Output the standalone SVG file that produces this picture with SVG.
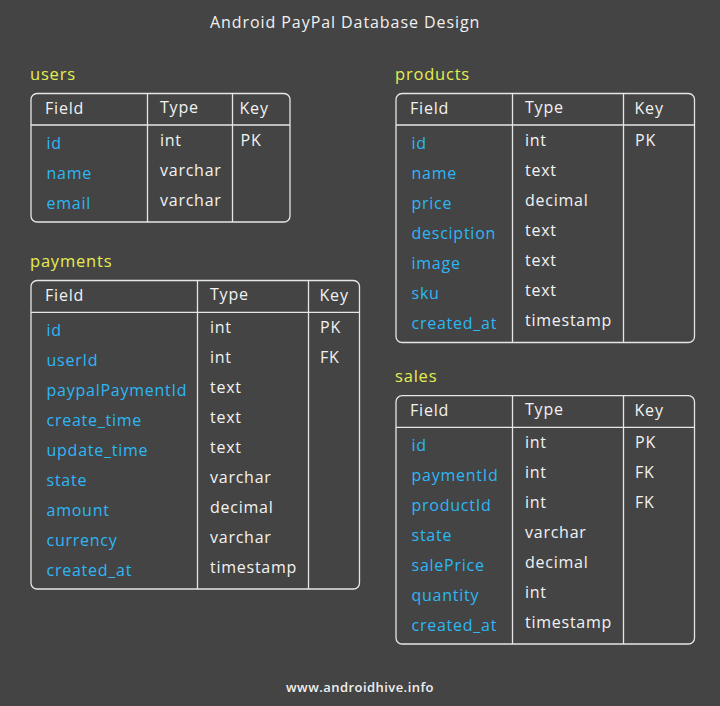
<svg xmlns="http://www.w3.org/2000/svg" width="720" height="706" viewBox="0 0 720 706">
<style>
text{font-family:"Open Sans","Noto Sans","DejaVu Sans",sans-serif;}
.title{font-size:16px;fill:#f0f0f0;letter-spacing:0.93px;}
.foot{font-size:13px;fill:#f0f0f0;font-weight:600;letter-spacing:0.45px;}
.tname{font-size:16.5px;fill:#e4ee50;letter-spacing:0.8px;}
.hd{font-size:16px;fill:#f2f2f2;letter-spacing:0.8px;}
.fld{font-size:16px;fill:#2db7f5;letter-spacing:0.75px;}
.typ{font-size:16px;fill:#f2f2f2;letter-spacing:0.75px;}
.box{fill:none;stroke:#e6e6e6;stroke-width:1.3;}
.ln{stroke:#e6e6e6;stroke-width:1.3;}
</style>
<rect width="720" height="706" fill="#444444"/>
<text class="title" x="210" y="28">Android PayPal Database Design</text>

<g id="users">
<text class="tname" x="30" y="80">users</text>
<rect class="box" x="31" y="93.5" width="259" height="128.5" rx="6"/>
<line class="ln" x1="31" y1="125" x2="290" y2="125"/>
<line class="ln" x1="147.5" y1="93.5" x2="147.5" y2="222"/>
<line class="ln" x1="232.5" y1="93.5" x2="232.5" y2="222"/>
<text class="hd" x="45" y="114">Field</text>
<text class="hd" x="160" y="113">Type</text>
<text class="hd" x="239.5" y="114">Key</text>
<text class="fld" x="46.5" y="149">id</text>
<text class="fld" x="46.5" y="179">name</text>
<text class="fld" x="46.5" y="209">email</text>
<text class="typ" x="160" y="145.5">int</text>
<text class="typ" x="160" y="175.5">varchar</text>
<text class="typ" x="160" y="205.5">varchar</text>
<text class="typ" x="240.5" y="145.5">PK</text>
</g>

<g id="products">
<text class="tname" x="395" y="80">products</text>
<rect class="box" x="396" y="93.5" width="298.5" height="249" rx="6"/>
<line class="ln" x1="396" y1="125" x2="694.5" y2="125"/>
<line class="ln" x1="512.5" y1="93.5" x2="512.5" y2="342.5"/>
<line class="ln" x1="623.5" y1="93.5" x2="623.5" y2="342.5"/>
<text class="hd" x="410" y="114">Field</text>
<text class="hd" x="525" y="113">Type</text>
<text class="hd" x="634.5" y="114">Key</text>
<text class="fld" x="411.5" y="149">id</text>
<text class="fld" x="411.5" y="179">name</text>
<text class="fld" x="411.5" y="209">price</text>
<text class="fld" x="411.5" y="239">desciption</text>
<text class="fld" x="411.5" y="269">image</text>
<text class="fld" x="411.5" y="299">sku</text>
<text class="fld" x="411.5" y="329">created_at</text>
<text class="typ" x="525" y="145.5">int</text>
<text class="typ" x="525" y="175.5">text</text>
<text class="typ" x="525" y="205.5">decimal</text>
<text class="typ" x="525" y="235.5">text</text>
<text class="typ" x="525" y="265.5">text</text>
<text class="typ" x="525" y="295.5">text</text>
<text class="typ" x="525" y="325.5">timestamp</text>
<text class="typ" x="635" y="145.5">PK</text>
</g>

<g id="payments">
<text class="tname" x="30" y="267">payments</text>
<rect class="box" x="31" y="280.5" width="328.5" height="308.5" rx="6"/>
<line class="ln" x1="31" y1="312.3" x2="359.5" y2="312.3"/>
<line class="ln" x1="197.5" y1="280.5" x2="197.5" y2="589"/>
<line class="ln" x1="308.5" y1="280.5" x2="308.5" y2="589"/>
<text class="hd" x="45" y="301">Field</text>
<text class="hd" x="210" y="300">Type</text>
<text class="hd" x="319.5" y="301">Key</text>
<text class="fld" x="46.5" y="336">id</text>
<text class="fld" x="46.5" y="366">userId</text>
<text class="fld" x="46.5" y="396">paypalPaymentId</text>
<text class="fld" x="46.5" y="426">create_time</text>
<text class="fld" x="46.5" y="456">update_time</text>
<text class="fld" x="46.5" y="486">state</text>
<text class="fld" x="46.5" y="516">amount</text>
<text class="fld" x="46.5" y="546">currency</text>
<text class="fld" x="46.5" y="576">created_at</text>
<text class="typ" x="210" y="332.5">int</text>
<text class="typ" x="210" y="362.5">int</text>
<text class="typ" x="210" y="392.5">text</text>
<text class="typ" x="210" y="422.5">text</text>
<text class="typ" x="210" y="452.5">text</text>
<text class="typ" x="210" y="482.5">varchar</text>
<text class="typ" x="210" y="512.5">decimal</text>
<text class="typ" x="210" y="542.5">varchar</text>
<text class="typ" x="210" y="572.5">timestamp</text>
<text class="typ" x="320" y="332.5">PK</text>
<text class="typ" x="320" y="362.5">FK</text>
</g>

<g id="sales">
<text class="tname" x="395" y="382">sales</text>
<rect class="box" x="396" y="395.7" width="298.5" height="248.3" rx="6"/>
<line class="ln" x1="396" y1="427.3" x2="694.5" y2="427.3"/>
<line class="ln" x1="512.5" y1="395.7" x2="512.5" y2="644"/>
<line class="ln" x1="623.5" y1="395.7" x2="623.5" y2="644"/>
<text class="hd" x="410" y="416">Field</text>
<text class="hd" x="525" y="415">Type</text>
<text class="hd" x="634.5" y="416">Key</text>
<text class="fld" x="411.5" y="451">id</text>
<text class="fld" x="411.5" y="481">paymentId</text>
<text class="fld" x="411.5" y="511">productId</text>
<text class="fld" x="411.5" y="541">state</text>
<text class="fld" x="411.5" y="571">salePrice</text>
<text class="fld" x="411.5" y="601">quantity</text>
<text class="fld" x="411.5" y="631">created_at</text>
<text class="typ" x="525" y="447.5">int</text>
<text class="typ" x="525" y="477.5">int</text>
<text class="typ" x="525" y="507.5">int</text>
<text class="typ" x="525" y="537.5">varchar</text>
<text class="typ" x="525" y="567.5">decimal</text>
<text class="typ" x="525" y="597.5">int</text>
<text class="typ" x="525" y="627.5">timestamp</text>
<text class="typ" x="635" y="447.5">PK</text>
<text class="typ" x="635" y="477.5">FK</text>
<text class="typ" x="635" y="507.5">FK</text>
</g>

<g id="connectors"></g>

<text class="foot" x="360" y="692" text-anchor="middle">www.androidhive.info</text>
</svg>
